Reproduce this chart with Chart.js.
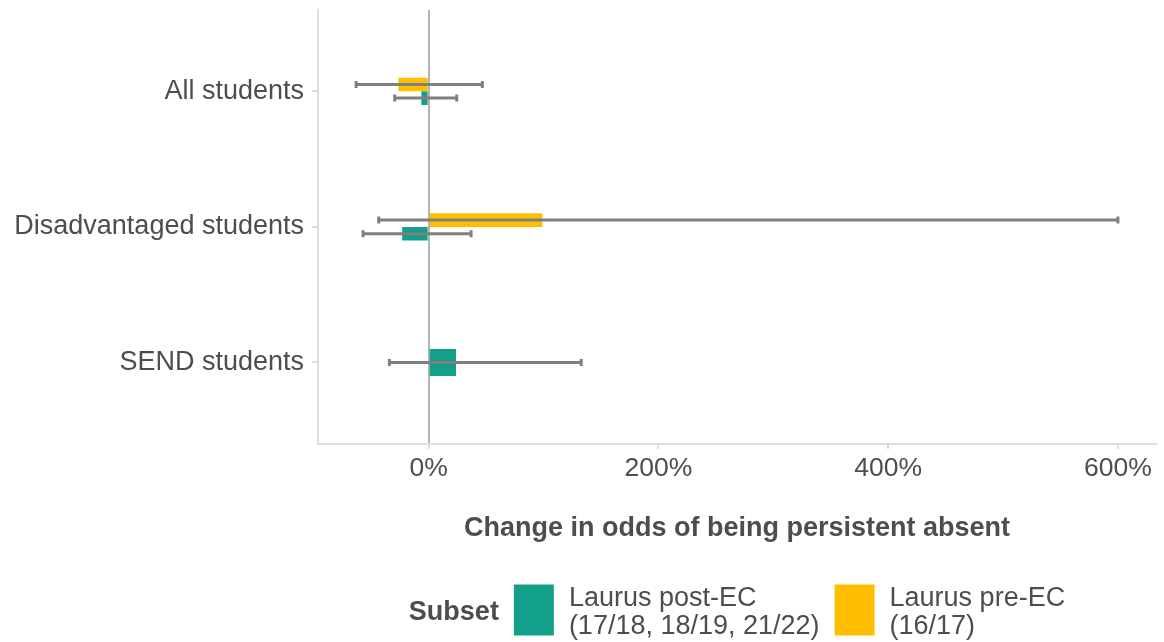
<!DOCTYPE html>
<html>
<head>
<meta charset="utf-8">
<script src="https://cdn.jsdelivr.net/npm/chart.js@4"></script>
<style>
  html, body { margin: 0; padding: 0; background: #ffffff; }
  #wrap { width: 1164px; height: 642px; }
</style>
</head>
<body>
<div id="wrap"><canvas id="chart"></canvas></div>
<script>
// Categories (top to bottom) and x-axis tick values (percent change)
const categories = ['All students', 'Disadvantaged students', 'SEND students'];
const xTickValues = [0, 200, 400, 600];

// Laurus post-EC: estimate with confidence interval
const postLabel = ['Laurus post-EC', '(17/18, 18/19, 21/22)'];
const postValues = [-6.4, -23.1, 23.8];
const postLow = [-29.6, -57.1, -34.2];
const postHigh = [24.4, 36.9, 132.8];

// Laurus pre-EC: estimate with confidence interval (no SEND estimate)
const preLabel = ['Laurus pre-EC', '(16/17)'];
const preValues = [-26.4, 98.9, null];
const preLow = [-63.2, -43.5, null];
const preHigh = [46.7, 600, null];

const TEAL = '#13a08a';
const YELLOW = '#ffbf00';
const TEXT = '#4d4d4d';
const FONT = "'Liberation Sans', Arial, Helvetica, sans-serif";

// x range: data extent (bars and intervals) plus 5% on each side
const allX = [0, ...postValues, ...postLow, ...postHigh, ...preValues, ...preLow, ...preHigh]
  .filter(v => v !== null);
const dataMin = Math.min(...allX), dataMax = Math.max(...allX);
const pad = (dataMax - dataMin) * 0.05;

const toPoints = vals => vals.map((v, i) => ({ x: v, y: i }));

// Horizontal interval whiskers with end caps, drawn on top of the bars
const errorBars = {
  id: 'errorBars',
  afterDatasetsDraw(chart, args, opts) {
    const { ctx } = chart;
    const xs = chart.scales.x;
    chart.data.datasets.forEach((ds, di) => {
      const meta = chart.getDatasetMeta(di);
      meta.data.forEach((el, i) => {
        const lo = ds.low[i], hi = ds.high[i];
        if (lo === null || hi === null || ds.data[i].x === null) return;
        const y = el.y;
        const x1 = xs.getPixelForValue(lo), x2 = xs.getPixelForValue(hi);
        ctx.save();
        ctx.strokeStyle = opts.color;
        ctx.lineWidth = opts.width;
        ctx.beginPath();
        ctx.moveTo(x1, y); ctx.lineTo(x2, y);
        ctx.moveTo(x1, y - opts.cap); ctx.lineTo(x1, y + opts.cap);
        ctx.moveTo(x2, y - opts.cap); ctx.lineTo(x2, y + opts.cap);
        ctx.stroke();
        ctx.restore();
      });
    });
  }
};

// Legend below the axis title: bold title, then colour keys with two-line labels
const subsetLegend = {
  id: 'subsetLegend',
  afterDraw(chart, args, opts) {
    const { ctx, chartArea } = chart;
    const items = opts.order.map(di => chart.data.datasets[di]);
    ctx.save();
    ctx.font = `bold ${opts.size}px ${FONT}`;
    const titleW = ctx.measureText(opts.title).width;
    ctx.font = `${opts.size}px ${FONT}`;
    const textWs = items.map(ds => Math.max(...ds.label.map(t => ctx.measureText(t).width)));
    let total = titleW;
    textWs.forEach(w => { total += opts.gap + opts.keyW + opts.gap + w; });
    let x = (chartArea.left + chartArea.right) / 2 - total / 2;
    const cy = opts.centerY;
    ctx.fillStyle = TEXT;
    ctx.textBaseline = 'middle';
    ctx.font = `bold ${opts.size}px ${FONT}`;
    ctx.fillText(opts.title, x, cy + opts.textShift);
    x += titleW;
    items.forEach((ds, k) => {
      x += opts.gap;
      ctx.fillStyle = ds.backgroundColor;
      ctx.fillRect(x, cy - opts.keyH / 2, opts.keyW, opts.keyH);
      x += opts.keyW + opts.gap;
      ctx.fillStyle = TEXT;
      ctx.font = `${opts.size}px ${FONT}`;
      const n = ds.label.length;
      ds.label.forEach((t, j) => {
        ctx.fillText(t, x, cy + opts.textShift + (j - (n - 1) / 2) * opts.lineH);
      });
      x += textWs[k];
    });
    ctx.restore();
  }
};

new Chart(document.getElementById('chart'), {
  type: 'bar',
  data: {
    datasets: [
      { label: preLabel, data: toPoints(preValues), low: preLow, high: preHigh,
        backgroundColor: YELLOW },
      { label: postLabel, data: toPoints(postValues), low: postLow, high: postHigh,
        backgroundColor: TEAL }
    ]
  },
  options: {
    indexAxis: 'y',
    responsive: true,
    maintainAspectRatio: false,
    animation: false,
    skipNull: true,
    categoryPercentage: 0.2,
    barPercentage: 1.0,
    layout: { padding: { top: 10, right: 8, left: 0, bottom: 97 } },
    scales: {
      x: {
        type: 'linear',
        min: dataMin - pad,
        max: dataMax + pad,
        afterBuildTicks: s => { s.ticks = xTickValues.map(v => ({ value: v })); },
        ticks: {
          callback: v => v + '%',
          color: TEXT,
          font: { family: FONT, size: 26.5 },
          padding: 4
        },
        grid: {
          drawOnChartArea: true,
          color: c => (c.tick && c.tick.value === 0) ? '#b4b4b4' : 'rgba(0,0,0,0)',
          lineWidth: 2,
          tickColor: '#d9d9d9',
          tickLength: 5
        },
        border: { color: '#dedede', width: 2 },
        title: {
          display: true,
          text: 'Change in odds of being persistent absent',
          color: TEXT,
          font: { family: FONT, size: 27, weight: 'bold' },
          padding: { top: 24, bottom: 0 }
        }
      },
      y: {
        type: 'linear',
        reverse: true,
        offset: false,
        min: -0.6,
        max: categories.length - 1 + 0.6,
        afterBuildTicks: s => { s.ticks = categories.map((c, i) => ({ value: i })); },
        afterFit: s => { s.width = 318; s.paddingTop = 0; s.paddingBottom = 0; },
        ticks: {
          callback: v => categories[v],
          color: TEXT,
          font: { family: FONT, size: 27 },
          padding: 8
        },
        grid: {
          offset: false,
          drawOnChartArea: false,
          tickColor: '#d9d9d9',
          tickLength: 6,
          lineWidth: 2
        },
        border: { color: '#dedede', width: 2 }
      }
    },
    plugins: {
      legend: { display: false },
      tooltip: { enabled: false },
      errorBars: { color: '#7f7f7f', width: 3, cap: 3.5 },
      subsetLegend: {
        title: 'Subset', order: [1, 0], size: 27,
        keyW: 40, keyH: 51, gap: 15, lineH: 28, centerY: 610, textShift: 3
      }
    }
  },
  plugins: [errorBars, subsetLegend]
});
</script>
</body>
</html>
